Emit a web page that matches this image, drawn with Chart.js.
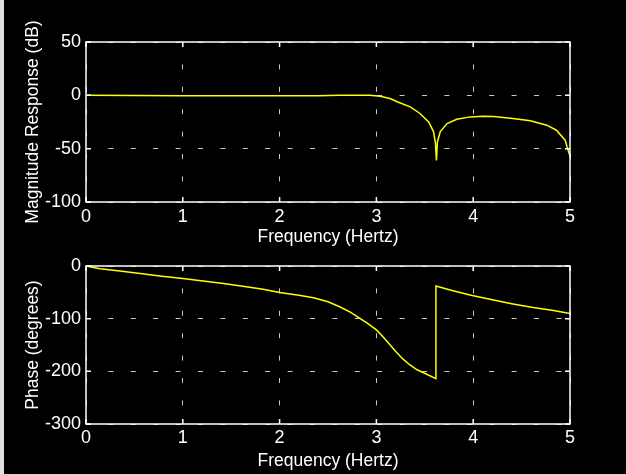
<!DOCTYPE html>
<html>
<head>
<meta charset="utf-8">
<script src="https://cdn.jsdelivr.net/npm/chart.js@4/dist/chart.umd.min.js"></script>
<style>
  body { margin: 0; background: #000; width: 626px; height: 474px; overflow: hidden; position: relative; }
  canvas { position: absolute; left: 0; }
  #edge { position: absolute; left: 0; top: 0; width: 4px; height: 474px; background: #e0e0e0; }
</style>
</head>
<body>
<canvas id="mag" width="626" height="250" style="top:0"></canvas>
<canvas id="phase" width="626" height="224" style="top:250px"></canvas>
<div id="edge"></div>
<script>
// magnitude response
var magFreq = [0, 0.5, 1.0, 1.5, 2.0, 2.4, 2.62, 2.93, 3.04, 3.14, 3.24, 3.35, 3.45, 3.54, 3.59, 3.61, 3.62, 3.63, 3.66, 3.73, 3.83, 3.97, 4.10, 4.21, 4.41, 4.59, 4.76, 4.86, 4.95, 4.97, 5.0];
var magDb = [0, -0.1, -0.3, -0.5, -0.5, -0.3, 0, 0, -0.8, -3, -7, -10.8, -17, -24.9, -34, -45, -61, -43.7, -34, -26.4, -22.4, -20.2, -19.6, -19.9, -21.7, -23.9, -28, -32.7, -42, -48.4, -57];

// phase response
var phaseFreq = [0, 0.145, 0.35, 0.56, 0.76, 1.0, 1.21, 1.42, 1.62, 1.83, 2.0, 2.2, 2.35, 2.5, 2.62, 2.73, 2.83, 2.92, 3.0, 3.07, 3.14, 3.2, 3.27, 3.34, 3.42, 3.52, 3.615, 3.615, 3.79, 3.99, 4.21, 4.41, 4.62, 4.83, 5.0];
var phaseDeg = [0, -5, -9.4, -14.4, -19, -23.9, -28.4, -33.4, -38.5, -44, -50.2, -55.5, -60.4, -68, -77.3, -87.5, -99.3, -110.5, -121.3, -135, -149.6, -162.5, -176, -187, -197, -205.5, -213.8, -38, -47, -56, -64.5, -72, -79, -84.6, -90];

var freqTicks = [0, 1, 2, 3, 4, 5];
var magTicks = [-100, -50, 0, 50];
var phaseTicks = [-300, -200, -100, 0];

var tickFont = { family: "'Liberation Sans', Arial, sans-serif", size: 18 };
var titleFont = { family: "'Liberation Sans', Arial, sans-serif", size: 17.5 };
var white = '#ffffff';
var gridColor = '#c8c8c8';

// matlab style box: full frame plus inward tick marks
var boxPlugin = {
  id: 'box',
  afterDraw: function (chart) {
    var ctx = chart.ctx, a = chart.chartArea;
    var sx = chart.scales.x, sy = chart.scales.y;
    ctx.save();
    ctx.strokeStyle = white;
    ctx.lineWidth = 1.5;
    ctx.strokeRect(a.left, a.top, a.right - a.left, a.bottom - a.top);
    ctx.beginPath();
    sx.ticks.forEach(function (t) {
      var px = sx.getPixelForValue(t.value);
      ctx.moveTo(px, a.bottom); ctx.lineTo(px, a.bottom - 5);
      ctx.moveTo(px, a.top); ctx.lineTo(px, a.top + 5);
    });
    sy.ticks.forEach(function (t) {
      var py = sy.getPixelForValue(t.value);
      ctx.moveTo(a.left, py); ctx.lineTo(a.left + 5, py);
      ctx.moveTo(a.right, py); ctx.lineTo(a.right - 5, py);
    });
    ctx.stroke();
    ctx.restore();
  }
};

function pairs(xs, ys) {
  var out = [];
  for (var i = 0; i < xs.length; i++) out.push({ x: xs[i], y: ys[i] });
  return out;
}

function makeChart(el, xs, ys, yTicks, yTitle, pad, xHeight, tickPad) {
  return new Chart(el, {
    type: 'line',
    data: {
      datasets: [{
        data: pairs(xs, ys),
        borderColor: '#ffff00',
        borderWidth: 1.5,
        pointRadius: 0,
        tension: 0
      }]
    },
    options: {
      responsive: false,
      animation: false,
      layout: { padding: pad },
      plugins: { legend: { display: false }, tooltip: { enabled: false } },
      scales: {
        x: {
          type: 'linear',
          min: freqTicks[0],
          max: freqTicks[freqTicks.length - 1],
          afterBuildTicks: function (s) { s.ticks = freqTicks.map(function (v) { return { value: v }; }); },
          ticks: { color: white, font: tickFont, padding: tickPad, maxRotation: 0 },
          grid: { color: gridColor, drawTicks: false, lineWidth: 1 },
          border: { display: false, dash: [5, 17.4] },
          title: { display: true, text: 'Frequency (Hertz)', color: white, font: titleFont, padding: { top: 0, bottom: 2 } },
          afterFit: function (s) { s.height = xHeight; }
        },
        y: {
          min: yTicks[0],
          max: yTicks[yTicks.length - 1],
          afterBuildTicks: function (s) { s.ticks = yTicks.map(function (v) { return { value: v }; }); },
          ticks: { color: white, font: tickFont, padding: 5 },
          grid: { color: gridColor, drawTicks: false, lineWidth: 1 },
          border: { display: false, dash: [5, 17.4] },
          title: { display: true, text: yTitle, color: white, font: titleFont, padding: { top: 23, bottom: 0 } },
          afterFit: function (s) { s.width = 86; }
        }
      }
    },
    plugins: [boxPlugin]
  });
}

makeChart(document.getElementById('mag'), magFreq, magDb, magTicks, 'Magnitude Response (dB)',
  { left: 0, right: 56, top: 42, bottom: 0 }, 48, 4);
makeChart(document.getElementById('phase'), phaseFreq, phaseDeg, phaseTicks, 'Phase (degrees)',
  { left: 0, right: 56, top: 16, bottom: 0 }, 50, 3);
</script>
</body>
</html>
